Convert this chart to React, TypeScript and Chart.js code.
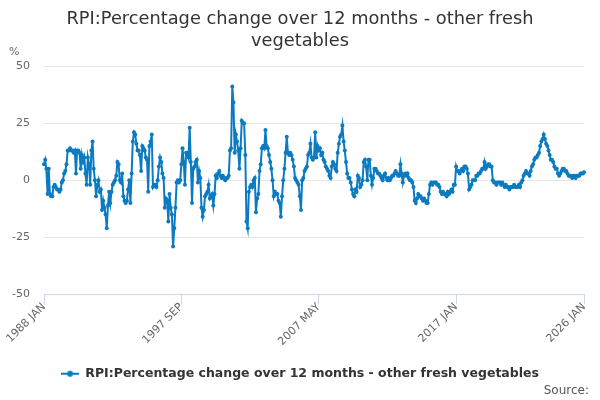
import { useEffect, useRef } from "react";
import { Chart, registerables } from "chart.js";

Chart.register(...registerables);

const startYear = 1988;
const monthNames = ["JAN", "FEB", "MAR", "APR", "MAY", "JUN", "JUL", "AUG", "SEP", "OCT", "NOV", "DEC"];

const values1988to1997 = [
  7, 9, 5, -6, 5, -6, -7, -7, -3, -2, -3, -4,
  -4, -5, -4, -1, 0, 3, 4, 7, 13, 13, 14, 13,
  13, 12, 13, 3, 13, 13, 12, 5, 11, 8, 10, 3,
  -2, 10, 7, -2, 13, 17, 5, 0, -7, -2, 0, -5,
  -4, -13, -9, -12, -15, -21, -11, -5, -10, -5, -2, -1,
  0, 2, 8, 7, 0, -1, 3, -7, -9, -10, -9, -4,
  0, -10, 3, 17, 21, 20, 16, 13, 13, 11, 4, 15,
  14, 13, 10, 9, -5, 15, 17, 20, -3, -2, -2, -3,
  0, 6, 10, 8, 3, 1, -12, -8, -9, -18, -6, -12,
  -15, -29, -21, -12, -1, 0, -1, 0, 7, 14, 8, -2,
];
const values1998to2007 = [
  12, 12, 10, 23, 8, -10, 5, 6, 8, 9, -1, 4,
  1, -12, -16, -13, -7, -6, -5, -2, -8, -7, -6, -11,
  -6, 2, 1, 3, 4, 2, 1, 2, 1, 0, 1, 1,
  2, 13, 14, 41, 34, 12, 20, 17, 13, 5, 14, 26,
  25, 25, 11, -18, -21, -5, -3, -2, -3, 0, 1, -14,
  -8, -6, 4, 7, 14, 15, 14, 22, 15, 14, 11, 8,
  5, 0, -7, -5, -6, -6, -9, -10, -16, -7, 0, 5,
  12, 19, 12, 11, 12, 11, 9, 6, 1, 0, -1, -2,
  -7, -13, 0, 1, 4, 5, 6, 11, 12, 16, 10, 9,
  10, 21, 10, 15, 13, 14, 11, 12, 9, 8, 6, 5,
];
const values2008to2017 = [
  4, 2, 1, 6, 8, 7, 5, 4, 12, 16, 19, 20,
  24, 17, 13, 8, 3, 1, 1, -1, -4, -6, -7, -4,
  -5, 2, 1, -3, -2, 0, 8, 9, 6, 0, 9, 9,
  2, -2, 1, 5, 5, 4, 3, 3, 2, 1, 0, 2,
  3, 1, 0, 1, 0, 1, 2, 2, 3, 4, 3, 2,
  2, 7, 3, -1, 2, 3, 2, 3, 1, 0, 0, -1,
  -3, -9, -10, -8, -6, -7, -7, -8, -9, -8, -9, -10,
  -10, -6, -2, -1, -2, -1, -1, -1, -2, -2, -3, -5,
  -6, -5, -6, -6, -7, -5, -6, -5, -4, -5, -2, -2,
  6, 4, 4, 3, 4, 5, 4, 6, 6, 5, 3, -4,
];
const values2018to2026 = [
  -3, -2, 0, 0, 0, 2, 2, 3, 3, 4, 5, 5,
  8, 5, 6, 7, 7, 6, 6, 0, -1, -1, -2, -1,
  -1, -1, -2, -1, -2, -3, -2, -3, -3, -4, -3, -3,
  -3, -2, -3, -3, -3, -2, -3, -1, 0, 2, 3, 4,
  3, 3, 2, 4, 6, 7, 9, 10, 10, 11, 12, 15,
  17, 18, 20, 18, 16, 15, 13, 11, 9, 9, 8, 6,
  5, 5, 3, 2, 3, 4, 5, 5, 4, 4, 3, 2,
  2, 2, 1, 2, 2, 1, 2, 2, 2, 3, 3, 3,
  3.5,
];

const values = [...values1988to1997, ...values1998to2007, ...values2008to2017, ...values2018to2026];
const categories = values.map((_, i) => `${startYear + Math.floor(i / 12)} ${monthNames[i % 12]}`);
const xTickLabels = ["1988 JAN", "1997 SEP", "2007 MAY", "2017 JAN", "2026 JAN"];
const yTickValues = [-50, -25, 0, 25, 50];

const seriesName = "RPI:Percentage change over 12 months - other fresh vegetables";
const titleLines = ["RPI:Percentage change over 12 months - other fresh", "vegetables"];
const COLOR = "#0b7bc1";
const FONT = "'DejaVu Sans', 'Noto Sans', sans-serif";

export default function App() {
  const ref = useRef<HTMLCanvasElement>(null);

  useEffect(() => {
    const canvas = ref.current;
    if (!canvas) return;

    const sym = document.createElement("canvas");
    sym.width = 18;
    sym.height = 10;
    const sctx = sym.getContext("2d")!;
    sctx.strokeStyle = COLOR;
    sctx.lineWidth = 2;
    sctx.beginPath();
    sctx.moveTo(0, 5);
    sctx.lineTo(18, 5);
    sctx.stroke();
    sctx.fillStyle = COLOR;
    sctx.beginPath();
    sctx.arc(9, 5, 3, 0, Math.PI * 2);
    sctx.fill();

    const extras = {
      id: "extras",
      afterDraw(chart: any) {
        const ctx = chart.ctx;
        ctx.save();
        ctx.font = `11px ${FONT}`;
        ctx.fillStyle = "#666666";
        ctx.textBaseline = "middle";
        ctx.textAlign = "left";
        ctx.fillText("%", 9, 52);
        ctx.textAlign = "right";
        ctx.font = `12px ${FONT}`;
        ctx.fillStyle = "#555555";
        ctx.fillText("Source:", 589, 391);
        ctx.restore();
      },
    };

    Chart.defaults.font.family = FONT;

    const chart = new Chart(canvas, {
      type: "line",
      data: {
        labels: categories,
        datasets: [
          {
            label: seriesName,
            data: values,
            borderColor: COLOR,
            backgroundColor: COLOR,
            borderWidth: 2,
            pointRadius: 2,
            pointBorderWidth: 0,
            pointBackgroundColor: COLOR,
            tension: 0,
            yAxisID: "y",
          },
        ],
      },
      options: {
        animation: false,
        responsive: false,
        devicePixelRatio: 1,
        layout: { padding: { left: 0, right: 0, top: 0, bottom: 10 } },
        plugins: {
          title: {
            display: true,
            text: titleLines,
            color: "#333333",
            font: { size: 17.8, weight: "normal", lineHeight: 1.25 },
            padding: { top: 8, bottom: 13.5 },
          },
          legend: {
            display: true,
            position: "bottom",
            labels: {
              usePointStyle: true,
              pointStyle: sym as any,
              pointStyleWidth: 18,
              boxHeight: 10,
              color: "#333333",
              font: { size: 12.5, weight: "bold" },
              padding: 6,
            },
          },
          tooltip: { enabled: false },
        },
        scales: {
          x: {
            type: "category",
            afterBuildTicks(scale: any) {
              scale.ticks = scale.ticks.filter((t: any) => xTickLabels.includes(categories[t.value]));
            },
            afterFit(scale: any) {
              scale.height = 67;
            },
            ticks: {
              autoSkip: false,
              minRotation: 45,
              maxRotation: 45,
              color: "#666666",
              font: { size: 11 },
              padding: -4,
              callback: (value: any) => categories[value as number],
            },
            grid: {
              drawOnChartArea: false,
              drawTicks: true,
              tickLength: 10,
              color: "#ccd6eb",
            },
            border: { display: true, color: "#ccd6eb", width: 1 },
          },
          y: {
            type: "linear",
            position: "left",
            min: -50,
            max: 50,
            afterBuildTicks(scale: any) {
              scale.ticks = yTickValues.map((v) => ({ value: v }));
            },
            afterFit(scale: any) {
              scale.width = 44;
            },
            ticks: {
              color: "#666666",
              font: { size: 11 },
              padding: 14,
            },
            grid: {
              color: "#e6e6e6",
              drawTicks: false,
            },
            border: { display: false },
          },
          spacer: {
            type: "linear",
            position: "right",
            min: -50,
            max: 50,
            afterFit(scale: any) {
              scale.width = 16;
            },
            ticks: { display: false },
            grid: { display: false, drawTicks: false },
            border: { display: false },
          },
        },
      },
      plugins: [extras],
    });

    return () => chart.destroy();
  }, []);

  return (
    <div style={{ position: "fixed", left: 0, top: 0, width: 600, height: 400, background: "#ffffff" }}>
      <canvas ref={ref} width={600} height={400} style={{ width: 600, height: 400 }} />
    </div>
  );
}
